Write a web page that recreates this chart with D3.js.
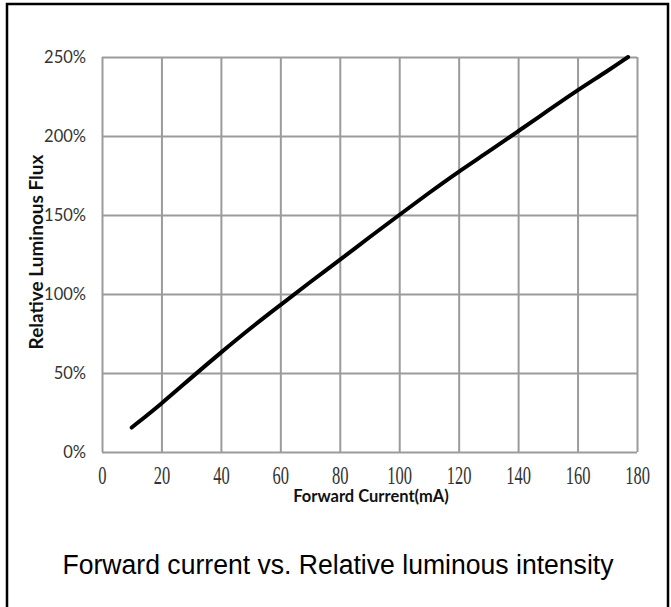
<!DOCTYPE html>
<html>
<head>
<meta charset="utf-8">
<script src="https://cdn.jsdelivr.net/npm/d3@7"></script>
<style>
  html, body { margin: 0; padding: 0; background: #fff; }
  svg { display: block; }
</style>
</head>
<body>
<svg id="chart" width="671" height="607"></svg>
<script>
// Forward current (mA) and the relative luminous flux it produces (1 = 100%)
const currentMA = [10, 20, 30, 40, 50, 60, 70, 80, 90, 100, 110, 120, 130, 140, 150, 160, 170, 177];
const relativeFlux = [0.155, 0.305, 0.47, 0.63, 0.785, 0.93, 1.075, 1.215, 1.36, 1.50, 1.64, 1.775, 1.90, 2.03, 2.16, 2.29, 2.41, 2.50];

const xTicks = [0, 20, 40, 60, 80, 100, 120, 140, 160, 180];
const yTicks = [0, 0.5, 1.0, 1.5, 2.0, 2.5];

const xTitle = "Forward Current(mA)";
const yTitle = "Relative Luminous Flux";
const caption = "Forward current vs. Relative luminous intensity";

const svg = d3.select("#chart");

// outer frame around chart and caption
svg.append("rect")
  .attr("x", 7).attr("y", 4)
  .attr("width", 661).attr("height", 620)
  .attr("fill", "none").attr("stroke", "#000").attr("stroke-width", 2.5);

const plot = { left: 102, right: 637, top: 57, bottom: 452 };

const x = d3.scaleLinear().domain([0, 180]).range([plot.left, plot.right]);
const y = d3.scaleLinear().domain([0, 2.5]).range([plot.bottom, plot.top]);

const gridColor = "#9b9b9b";

// grid: vertical lines from x axis ticks
const xGrid = svg.append("g")
  .attr("transform", `translate(0,${plot.bottom})`)
  .call(d3.axisBottom(x).tickValues(xTicks).tickSize(-(plot.bottom - plot.top)).tickFormat(""));
xGrid.select(".domain").remove();
xGrid.selectAll("line").attr("stroke", gridColor).attr("stroke-width", 2);

// grid: horizontal lines from y axis ticks
const yGrid = svg.append("g")
  .attr("transform", `translate(${plot.left},0)`)
  .call(d3.axisLeft(y).tickValues(yTicks).tickSize(-(plot.right - plot.left)).tickFormat(""));
yGrid.select(".domain").remove();
yGrid.selectAll("line").attr("stroke", gridColor).attr("stroke-width", 2);

// y tick labels
const yAxis = svg.append("g")
  .attr("transform", `translate(${plot.left},0)`)
  .call(d3.axisLeft(y).tickValues(yTicks).tickSize(0).tickPadding(16).tickFormat(d3.format(".0%")));
yAxis.select(".domain").remove();
yAxis.selectAll("text")
  .attr("font-family", "Lato, 'Open Sans', sans-serif")
  .attr("font-size", 16.5)
  .attr("fill", "#333");

// x tick labels (condensed serif)
const xAxis = svg.append("g")
  .attr("transform", `translate(0,${plot.bottom})`)
  .call(d3.axisBottom(x).tickValues(xTicks).tickSize(0).tickPadding(0).tickFormat(d3.format("d")));
xAxis.select(".domain").remove();
xAxis.selectAll(".tick text")
  .attr("font-family", "'Liberation Serif', 'DejaVu Serif', serif")
  .attr("font-size", 25)
  .attr("fill", "#333")
  .attr("dy", null)
  .attr("y", 0)
  .attr("transform", "translate(0,32) scale(0.66,1)");

// axis titles
svg.append("text")
  .attr("x", 371).attr("y", 502)
  .attr("text-anchor", "middle")
  .attr("font-family", "Lato, 'Open Sans', sans-serif")
  .attr("font-weight", "bold")
  .attr("font-size", 16.5)
  .attr("fill", "#111")
  .text(xTitle);

svg.append("text")
  .attr("transform", "translate(43,252) rotate(-90)")
  .attr("text-anchor", "middle")
  .attr("font-family", "Lato, 'Open Sans', sans-serif")
  .attr("font-weight", "bold")
  .attr("font-size", 19)
  .attr("fill", "#111")
  .text(yTitle);

// the flux curve
const line = d3.line()
  .x((d, i) => x(currentMA[i]))
  .y(d => y(d))
  .curve(d3.curveBasis);

svg.append("path")
  .datum(relativeFlux)
  .attr("d", line)
  .attr("fill", "none")
  .attr("stroke", "#000")
  .attr("stroke-width", 4)
  .attr("stroke-linecap", "round");

// caption
svg.append("text")
  .attr("x", 338).attr("y", 574)
  .attr("text-anchor", "middle")
  .attr("font-family", "'Liberation Sans', Arial, sans-serif")
  .attr("font-size", 27)
  .attr("textLength", 551)
  .attr("lengthAdjust", "spacingAndGlyphs")
  .attr("fill", "#000")
  .text(caption);
</script>
</body>
</html>
